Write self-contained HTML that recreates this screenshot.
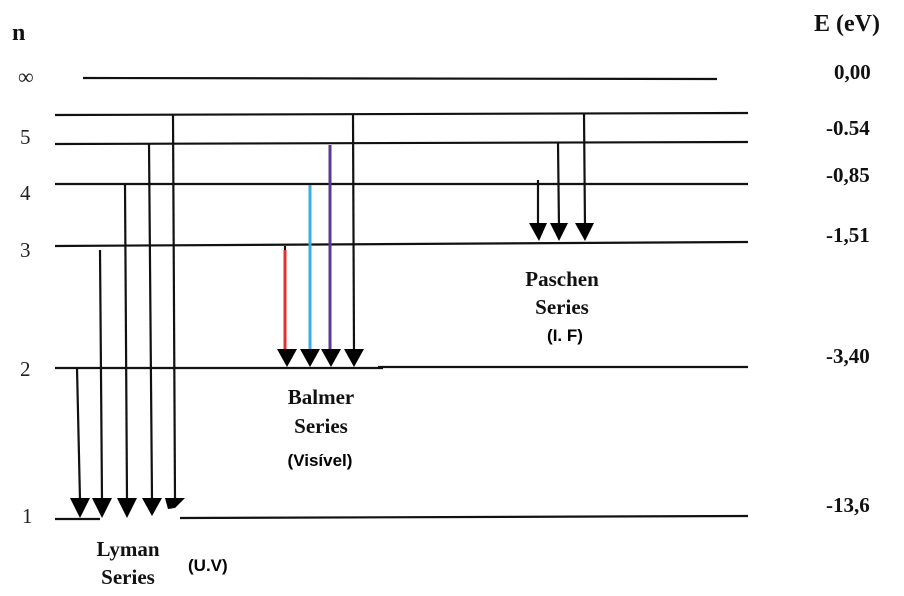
<!DOCTYPE html>
<html><head><meta charset="utf-8"><style>
html,body{margin:0;padding:0;background:#fff;}
svg{display:block;}
.s{font-family:"Liberation Serif",serif;font-weight:bold;fill:#111;}
.r{font-family:"Liberation Serif",serif;fill:#222;}
.a{font-family:"Liberation Sans",sans-serif;font-weight:bold;fill:#000;}
</style></head><body>
<svg width="904" height="596" viewBox="0 0 904 596" xmlns="http://www.w3.org/2000/svg">
<g stroke="#111" stroke-width="2.2" fill="none">
<line x1="83" y1="78" x2="717" y2="79"/>
<line x1="55" y1="115" x2="748" y2="113"/>
<line x1="55" y1="144" x2="748" y2="142"/>
<line x1="55" y1="184" x2="748" y2="184"/>
<line x1="55" y1="246" x2="748" y2="242"/>
<line x1="55" y1="368" x2="383" y2="368"/>
<line x1="378" y1="367" x2="748" y2="367"/>
<line x1="55" y1="519" x2="100" y2="519"/>
<line x1="180" y1="518" x2="748" y2="516"/>
<line x1="77" y1="368" x2="80" y2="500"/>
<line x1="100" y1="250" x2="102" y2="500"/>
<line x1="125" y1="184" x2="127" y2="500"/>
<line x1="149" y1="143" x2="152" y2="500"/>
<line x1="173" y1="115" x2="175" y2="500"/>
<line x1="285" y1="246" x2="285" y2="252" />
<line x1="353" y1="114" x2="354" y2="352"/>
<line x1="538" y1="180" x2="538" y2="228"/>
<line x1="558" y1="143" x2="559" y2="228"/>
<line x1="584" y1="113" x2="585" y2="228"/>
</g>
<line x1="285" y1="250" x2="285" y2="352" stroke="#e53030" stroke-width="3"/>
<line x1="310" y1="185" x2="310" y2="352" stroke="#3aaee0" stroke-width="3"/>
<line x1="330" y1="145" x2="330" y2="352" stroke="#5b3a96" stroke-width="3"/>
<g fill="#000">
<polygon points="70,498 90,498 80,518"/>
<polygon points="92,498 112,498 102,518"/>
<polygon points="117,498 137,498 127,518"/>
<polygon points="142,498 162,498 152,516"/>
<polygon points="165,498 185,498 175,508 168,509"/>
<polygon points="277,349 297,349 287,367"/>
<polygon points="300,349 320,349 310,367"/>
<polygon points="321,349 341,349 331,367"/>
<polygon points="344,349 364,349 354,367"/>
<polygon points="529,223 547,223 539,241"/>
<polygon points="550,223 568,223 559,241"/>
<polygon points="575,223 594,223 585,241"/>
</g>
<text x="12" y="40" class="s" font-size="24">n</text>
<text x="18" y="84" class="r" font-size="22">∞</text>
<text x="20" y="144" class="r" font-size="21">5</text>
<text x="20" y="200" class="r" font-size="21">4</text>
<text x="20" y="257" class="r" font-size="21">3</text>
<text x="20" y="376" class="r" font-size="21">2</text>
<text x="22" y="523" class="r" font-size="21">1</text>
<text x="814" y="31" class="s" font-size="24">E (eV)</text>
<text x="834" y="79" class="s" font-size="21">0,00</text>
<text x="826" y="135" class="s" font-size="21">-0.54</text>
<text x="826" y="182" class="s" font-size="21">-0,85</text>
<text x="826" y="242" class="s" font-size="21">-1,51</text>
<text x="826" y="363" class="s" font-size="21">-3,40</text>
<text x="826" y="512" class="s" font-size="21">-13,6</text>
<text x="321" y="404" class="s" font-size="21" text-anchor="middle">Balmer</text>
<text x="321" y="433" class="s" font-size="21" text-anchor="middle">Series</text>
<text x="320" y="466" class="a" font-size="17" text-anchor="middle">(Visível)</text>
<text x="562" y="286" class="s" font-size="21" text-anchor="middle">Paschen</text>
<text x="562" y="314" class="s" font-size="21" text-anchor="middle">Series</text>
<text x="565" y="341" class="a" font-size="17" text-anchor="middle">(I. F)</text>
<text x="128" y="556" class="s" font-size="21" text-anchor="middle">Lyman</text>
<text x="128" y="584" class="s" font-size="21" text-anchor="middle">Series</text>
<text x="188" y="571" class="a" font-size="17">(U.V)</text>
</svg>
</body></html>
